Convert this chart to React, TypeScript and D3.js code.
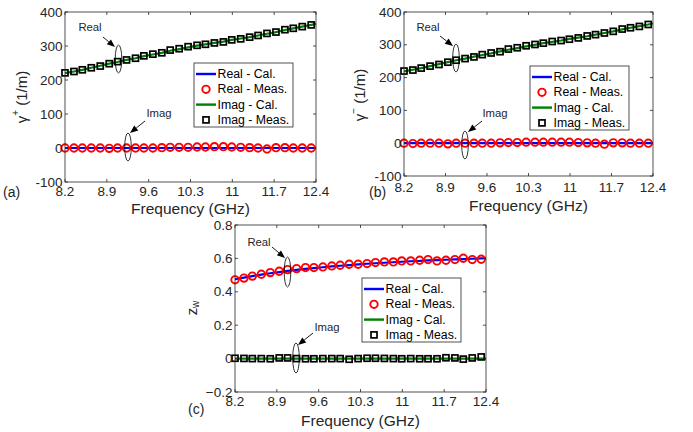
import React from "react";
import * as d3 from "d3";

// frequency points of the measured data (GHz)
const freq = [8.2, 8.35, 8.49, 8.64, 8.79, 8.94, 9.08, 9.23, 9.38, 9.52, 9.67, 9.82, 9.96, 10.11, 10.26,
  10.41, 10.55, 10.7, 10.85, 10.99, 11.14, 11.29, 11.43, 11.58, 11.73, 11.88, 12.02, 12.17, 12.32];
// calculated curves go to the band edge
const calFreq = [...freq, 12.4];
const xTicks = [8.2, 8.9, 9.6, 10.3, 11, 11.7, 12.4];

// (a) gamma+
const aImagCal = [220, 225, 230, 236, 242, 248, 253, 259, 264, 270, 275, 280, 286, 291, 296,
  301, 305, 309, 313, 318, 322, 326, 331, 336, 341, 347, 352, 357, 362, 365];
const aImagMeas = [221, 225, 230, 236, 241, 248, 254, 259, 264, 271, 276, 280, 288, 292, 298,
  302, 305, 309, 312, 318, 321, 326, 331, 337, 341, 348, 352, 357, 362];
const aRealCal = [0, 0, 0, 0, 0, 0, 0, 0, 0, 0, 0, 0, 0, 0, 0, 0, 0, 0, 0, 0, 0, 0, 0, 0, 0, 0, 0, 0, 0, 0];
const aRealMeas = [0, 0, 0, 0, 0, -1, 0, 0, 0, 0, 0, 1, 2, 2, 2, 3, 3, 4, 4, 3, 2, 1, 0, -3, 1, 1, 0, 0, 0];

// (b) gamma-
const bImagCal = [219, 224, 229, 235, 241, 247, 253, 258, 264, 269, 274, 280, 285, 290, 295,
  300, 305, 309, 313, 318, 322, 326, 331, 336, 341, 347, 352, 357, 362, 365];
const bImagMeas = [220, 223, 229, 235, 240, 247, 253, 258, 263, 270, 275, 279, 287, 291, 297,
  301, 305, 310, 313, 317, 321, 327, 331, 336, 341, 348, 352, 356, 362];
const bRealCal = [0, 0, 0, 0, 0, 0, 0, 0, 0, 0, 0, 0, 0, 0, 0, 0, 0, 0, 0, 0, 0, 0, 0, 0, 0, 0, 0, 0, 0, 0];
const bRealMeas = [0, -1, 0, 0, 0, -2, 0, 0, 0, 0, 0, 1, 2, 2, 3, 3, 3, 3, 3, 3, 2, 1, 0, -3, 1, 1, 0, 0, 0];

// (c) z_w
const cRealCal = [0.475, 0.485, 0.494, 0.503, 0.511, 0.518, 0.525, 0.531, 0.537, 0.542, 0.547, 0.552, 0.556, 0.56, 0.564,
  0.568, 0.571, 0.574, 0.577, 0.58, 0.583, 0.585, 0.588, 0.59, 0.592, 0.594, 0.596, 0.598, 0.6, 0.601];
const cRealMeas = [0.472, 0.482, 0.494, 0.505, 0.515, 0.523, 0.533, 0.539, 0.545, 0.545, 0.549, 0.555, 0.559, 0.565, 0.565,
  0.569, 0.575, 0.579, 0.579, 0.585, 0.585, 0.589, 0.593, 0.585, 0.589, 0.593, 0.601, 0.593, 0.595];
const cImagCal = [0, 0, 0, 0, 0, 0, 0, 0, 0, 0, 0, 0, 0, 0, 0, 0, 0, 0, 0, 0, 0, 0, 0, 0, 0, 0, 0, 0, 0, 0];
const cImagMeas = [0.002, 0.001, 0, 0, -0.001, 0.004, 0.004, 0, -0.001, -0.001, 0, 0, 0, -0.004, 0, 0.002, 0.002, 0.001, 0,
  -0.001, 0, -0.001, -0.001, -0.001, 0.005, 0.004, -0.003, 0.004, 0.01];

const legendLabels = ["Real - Cal.", "Real - Meas.", "Imag - Cal.", "Imag - Meas."];

const TXT = "#262626";
const FONT = "'Liberation Sans', Arial, Helvetica, sans-serif";

type Arrow = { text: string; tx: number; ty: number; x1: number; y1: number; x2: number; y2: number; ex: number; ey: number; ry: number };

type PanelProps = {
  left: number; right: number; top: number; bottom: number;
  yDomain: [number, number]; yTicks: number[]; yFmt: (v: number) => string;
  realCal: number[]; realMeas: number[]; imagCal: number[]; imagMeas: number[];
  legend: { x: number; y: number };
  arrows: Arrow[];
  tag: string; tagX: number; tagY: number;
  xTickY: number; xLabelY: number;
  yLabel: React.ReactNode; yLabelX: number; yLabelY: number;
};

function ArrowAnno({ a }: { a: Arrow }) {
  const ang = Math.atan2(a.y2 - a.y1, a.x2 - a.x1);
  const L = 8, W = 3.2;
  const bx = a.x2 - L * Math.cos(ang), by = a.y2 - L * Math.sin(ang);
  const p1 = [bx + W * Math.sin(ang), by - W * Math.cos(ang)];
  const p2 = [bx - W * Math.sin(ang), by + W * Math.cos(ang)];
  return (
    <g>
      <text x={a.tx} y={a.ty} fontSize={11.3} fill={TXT} textAnchor="middle" dominantBaseline="central">{a.text}</text>
      <line x1={a.x1} y1={a.y1} x2={bx} y2={by} stroke="#000" strokeWidth={0.9} />
      <polygon points={`${a.x2},${a.y2} ${p1[0]},${p1[1]} ${p2[0]},${p2[1]}`} fill="#000" />
      <ellipse cx={a.ex} cy={a.ey} rx={3.3} ry={a.ry} fill="none" stroke="#000" strokeWidth={0.8} />
    </g>
  );
}

function Panel(p: PanelProps) {
  const x = d3.scaleLinear().domain([8.2, 12.4]).range([p.left, p.right]);
  const y = d3.scaleLinear().domain(p.yDomain).range([p.bottom, p.top]);
  const line = d3.line<number>().x((_, i) => x(calFreq[i])).y((d) => y(d));
  const tl = 3;
  const lg = p.legend;
  return (
    <g fontFamily={FONT}>
      <defs>
        <clipPath id={`clip-${p.tag}`}>
          <rect x={p.left} y={p.top} width={p.right - p.left} height={p.bottom - p.top} />
        </clipPath>
      </defs>
      <rect x={p.left} y={p.top} width={p.right - p.left} height={p.bottom - p.top} fill="#fff" />
      <g clipPath={`url(#clip-${p.tag})`}>
        <path d={line(p.realCal) || ""} fill="none" stroke="#0000ff" strokeWidth={2.2} />
        <path d={line(p.imagCal) || ""} fill="none" stroke="#008000" strokeWidth={2.2} />
      </g>
      {p.realMeas.map((v, i) => (
        <circle key={`c${i}`} cx={x(freq[i])} cy={y(v)} r={3.7} fill="none" stroke="#ff0000" strokeWidth={1.9} />
      ))}
      {p.imagMeas.map((v, i) => (
        <rect key={`s${i}`} x={x(freq[i]) - 3} y={y(v) - 3} width={6} height={6} fill="none" stroke="#000" strokeWidth={1.7} />
      ))}
      {/* axes box with inward ticks */}
      <rect x={p.left} y={p.top} width={p.right - p.left} height={p.bottom - p.top} fill="none" stroke={TXT} strokeWidth={0.8} />
      {xTicks.map((t) => (
        <g key={`xt${t}`}>
          <line x1={x(t)} x2={x(t)} y1={p.bottom} y2={p.bottom - tl} stroke={TXT} strokeWidth={0.8} />
          <line x1={x(t)} x2={x(t)} y1={p.top} y2={p.top + tl} stroke={TXT} strokeWidth={0.8} />
          <text x={x(t)} y={p.xTickY} fontSize={13.5} fill={TXT} textAnchor="middle">{t}</text>
        </g>
      ))}
      {p.yTicks.map((t) => (
        <g key={`yt${t}`}>
          <line x1={p.left} x2={p.left + tl} y1={y(t)} y2={y(t)} stroke={TXT} strokeWidth={0.8} />
          <line x1={p.right} x2={p.right - tl} y1={y(t)} y2={y(t)} stroke={TXT} strokeWidth={0.8} />
          <text x={p.left - 2.5} y={y(t)} fontSize={13.5} fill={TXT} textAnchor="end" dominantBaseline="central">{p.yFmt(t)}</text>
        </g>
      ))}
      <text x={(p.left + p.right) / 2} y={p.xLabelY} fontSize={15.5} fill={TXT} textAnchor="middle">Frequency (GHz)</text>
      <text x={p.tagX} y={p.tagY} fontSize={14} fill={TXT}>{p.tag}</text>
      <text transform={`translate(${p.yLabelX},${p.yLabelY}) rotate(-90)`} fontSize={15} fill={TXT} textAnchor="middle" dominantBaseline="central">{p.yLabel}</text>
      {p.arrows.map((a, i) => <ArrowAnno key={i} a={a} />)}
      {/* legend */}
      <g transform={`translate(${lg.x},${lg.y})`}>
        <rect x={0} y={0} width={99} height={64} fill="#fff" stroke={TXT} strokeWidth={0.8} />
        {legendLabels.map((lab, i) => {
          const cy = 11 + i * 15.3;
          return (
            <g key={lab}>
              {i === 0 && <line x1={2} x2={22} y1={cy} y2={cy} stroke="#0000ff" strokeWidth={2.4} />}
              {i === 1 && <circle cx={12} cy={cy} r={3.7} fill="none" stroke="#ff0000" strokeWidth={1.9} />}
              {i === 2 && <line x1={2} x2={22} y1={cy} y2={cy} stroke="#008000" strokeWidth={2.4} />}
              {i === 3 && <rect x={9} y={cy - 3} width={6} height={6} fill="none" stroke="#000" strokeWidth={1.7} />}
              <text x={23.5} y={cy} fontSize={12.3} fill="#000" dominantBaseline="central">{lab}</text>
            </g>
          );
        })}
      </g>
    </g>
  );
}

export default function App() {
  const intFmt = (v: number) => `${v}`;
  const decFmt = (v: number) => (v === 0 ? "0" : d3.format(".1f")(v));
  return (
    <div style={{ position: "absolute", left: 0, top: 0 }}>
      <svg width={693} height={432} style={{ display: "block", background: "#fff" }}>
        <Panel
          left={65} right={316} top={12} bottom={182}
          yDomain={[-100, 400]} yTicks={[-100, 0, 100, 200, 300, 400]} yFmt={intFmt}
          realCal={aRealCal} realMeas={aRealMeas} imagCal={aImagCal} imagMeas={aImagMeas}
          legend={{ x: 194, y: 63 }}
          arrows={[
            { text: "Real", tx: 90, ty: 27, x1: 103, y1: 37, x2: 115, y2: 47, ex: 118.5, ey: 59, ry: 14 },
            { text: "Imag", tx: 159, ty: 113, x1: 145, y1: 121, x2: 130, y2: 133, ex: 128, ey: 147, ry: 14 },
          ]}
          tag="(a)" tagX={3} tagY={197} xTickY={195.5} xLabelY={214}
          yLabel={<>γ<tspan fontSize={10} dy={-6}>+</tspan><tspan dy={6}> (1/m)</tspan></>} yLabelX={21} yLabelY={97}
        />
        <Panel
          left={404} right={653} top={12} bottom={176}
          yDomain={[-100, 400]} yTicks={[-100, 0, 100, 200, 300, 400]} yFmt={intFmt}
          realCal={bRealCal} realMeas={bRealMeas} imagCal={bImagCal} imagMeas={bImagMeas}
          legend={{ x: 530, y: 66 }}
          arrows={[
            { text: "Real", tx: 428, ty: 27, x1: 440, y1: 36, x2: 453, y2: 46, ex: 456, ey: 58, ry: 14 },
            { text: "Imag", tx: 495, ty: 113, x1: 482, y1: 121, x2: 468, y2: 132, ex: 465, ey: 145, ry: 14 },
          ]}
          tag="(b)" tagX={369} tagY={197} xTickY={192} xLabelY={210.5}
          yLabel={<>γ<tspan fontSize={10} dy={-6}>−</tspan><tspan dy={6}> (1/m)</tspan></>} yLabelX={359} yLabelY={95}
        />
        <Panel
          left={235} right={486} top={225} bottom={392}
          yDomain={[-0.2, 0.8]} yTicks={[-0.2, 0, 0.2, 0.4, 0.6, 0.8]} yFmt={decFmt}
          realCal={cRealCal} realMeas={cRealMeas} imagCal={cImagCal} imagMeas={cImagMeas}
          legend={{ x: 362, y: 278 }}
          arrows={[
            { text: "Real", tx: 259, ty: 242, x1: 272, y1: 247, x2: 285, y2: 258, ex: 287.5, ey: 272, ry: 15 },
            { text: "Imag", tx: 327, ty: 327, x1: 313, y1: 333, x2: 298, y2: 345, ex: 296, ey: 358, ry: 15 },
          ]}
          tag="(c)" tagX={188} tagY={414} xTickY={406} xLabelY={425.5}
          yLabel={<>z<tspan fontSize={10} dy={4}>w</tspan></>} yLabelX={191} yLabelY={308}
        />
      </svg>
    </div>
  );
}
